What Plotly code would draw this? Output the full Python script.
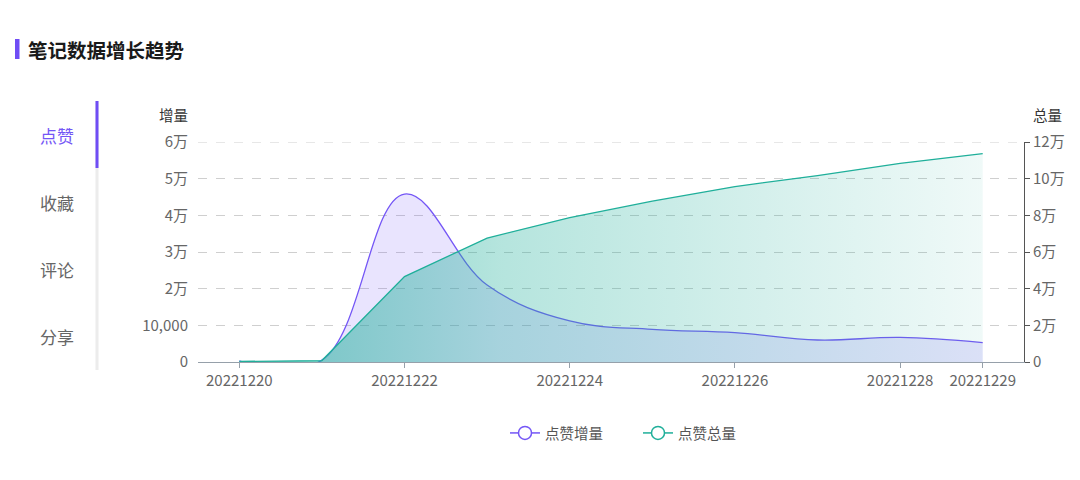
import plotly.graph_objects as go

dates = ["20221220", "20221221", "20221222", "20221223", "20221224",
         "20221225", "20221226", "20221227", "20221228", "20221229"]
increment = [300, 500, 45800, 21000, 11200, 8900, 8000, 6000, 6700, 5300]
total = [300, 800, 46600, 67600, 78800, 87700, 95700, 101700, 108400, 113700]

left_tickvals = [0, 10000, 20000, 30000, 40000, 50000, 60000]
left_ticktext = ["0", "10,000", "2万", "3万", "4万", "5万", "6万"]
right_tickvals = [0, 20000, 40000, 60000, 80000, 100000, 120000]
right_ticktext = ["0", "2万", "4万", "6万", "8万", "10万", "12万"]
x_tick_idx = [0, 2, 4, 6, 8, 9]
tabs = ["点赞", "收藏", "评论", "分享"]

PURPLE = "#7456F6"
TEAL = "#1FAF9A"
FONT = "Noto Sans CJK SC"

OFF = 8  # page body margin
W, H = 1080 - OFF, 480 - OFF
# plot area in screen pixels
L, R, T, B = 198, 1024, 142, 362

def px(x):
    return (x - L) / (R - L)

def py(y):
    return (B - y) / (B - T)

xs = list(range(len(dates)))

fig = go.Figure()

fig.add_trace(go.Scatter(
    x=xs, y=total, yaxis="y2", mode="lines",
    line=dict(color=TEAL, width=1.3),
    fill="tozeroy",
    fillgradient=dict(type="horizontal",
                      colorscale=[[0, "rgba(31,175,154,0.62)"],
                                  [0.35, "rgba(31,175,154,0.33)"],
                                  [1, "rgba(31,175,154,0.07)"]]),
    showlegend=False, hoverinfo="skip"))

fig.add_trace(go.Scatter(
    x=xs, y=increment, yaxis="y", mode="lines",
    line=dict(color=PURPLE, width=1.3, shape="spline", smoothing=1.1),
    fill="tozeroy", fillcolor="rgba(116,86,246,0.16)",
    showlegend=False, hoverinfo="skip"))

# legend entries
fig.add_trace(go.Scatter(
    x=[None], y=[None], mode="lines+markers", name="点赞增量",
    line=dict(color=PURPLE, width=1.5),
    marker=dict(symbol="circle", size=13, color="white",
                line=dict(color=PURPLE, width=1.5))))
fig.add_trace(go.Scatter(
    x=[None], y=[None], mode="lines+markers", name="点赞总量",
    line=dict(color=TEAL, width=1.5),
    marker=dict(symbol="circle", size=13, color="white",
                line=dict(color=TEAL, width=1.5))))

def ann(text, x, y, size, color, xanchor="center"):
    return dict(text=text, xref="paper", yref="paper", x=px(x), y=py(y),
                xanchor=xanchor, yanchor="middle", showarrow=False,
                font=dict(size=size, color=color, family=FONT))

annotations = [
    ann("<b>笔记数据增长趋势</b>", 26, 49, 19.5, "#1a1a1a", xanchor="left"),
    ann("增量", 173, 115, 14.5, "#333"),
    ann("总量", 1047, 115, 14.5, "#333"),
]
tab_y = [135, 202, 269, 336]
for i, (t, yy) in enumerate(zip(tabs, tab_y)):
    annotations.append(ann(t, 57, yy, 17, PURPLE if i == 0 else "#666"))

shapes = [
    dict(type="rect", xref="paper", yref="paper",
         x0=px(15), x1=px(19.5), y0=py(39), y1=py(59),
         fillcolor="#6F4DF5", line=dict(width=0)),
    dict(type="line", xref="paper", yref="paper",
         x0=px(97), x1=px(97), y0=py(101), y1=py(370),
         line=dict(color="#ececec", width=3)),
    dict(type="line", xref="paper", yref="paper",
         x0=px(97), x1=px(97), y0=py(101), y1=py(168),
         line=dict(color="#6F4DF5", width=3)),
    dict(type="line", xref="paper", yref="y",
         x0=0, x1=1, y0=left_tickvals[-1], y1=left_tickvals[-1],
         line=dict(color="#cfcfcf", width=1, dash="dash"), layer="below"),
]

TICKFONT = dict(size=15, color="#666", family=FONT)

fig.update_layout(
    width=W, height=H,
    margin=dict(l=L - OFF, r=W - (R - OFF), t=T - OFF, b=H - (B - OFF), pad=0),
    paper_bgcolor="white", plot_bgcolor="white",
    font=dict(family=FONT, size=14, color="#666"),
    xaxis=dict(
        range=[-0.5, len(dates) - 0.5],
        tickvals=x_tick_idx, ticktext=[dates[i] for i in x_tick_idx],
        ticks="outside", ticklen=5, tickcolor="#96A0AA",
        showline=True, linecolor="#96A0AA", linewidth=1,
        showgrid=False, zeroline=False, tickfont=TICKFONT),
    yaxis=dict(
        range=[0, 60000], tickvals=left_tickvals, ticktext=left_ticktext,
        showgrid=True, gridcolor="#cfcfcf", griddash="dash", gridwidth=1,
        zeroline=False, showline=False, ticks="",
        ticklabelstandoff=9, tickfont=TICKFONT),
    yaxis2=dict(
        range=[0, 120000], tickvals=right_tickvals, ticktext=right_ticktext,
        overlaying="y", side="right", showgrid=False, zeroline=False,
        showline=True, linecolor="#555", linewidth=1,
        ticks="outside", ticklen=5, tickcolor="#555", tickfont=TICKFONT),
    legend=dict(orientation="h", x=px(505), xanchor="left",
                y=py(433), yanchor="middle", itemwidth=30,
                entrywidth=88,
                font=dict(size=14.5, color="#555", family=FONT),
                bgcolor="rgba(0,0,0,0)"),
    annotations=annotations,
    shapes=shapes,
)

fig.write_html("out.html")
